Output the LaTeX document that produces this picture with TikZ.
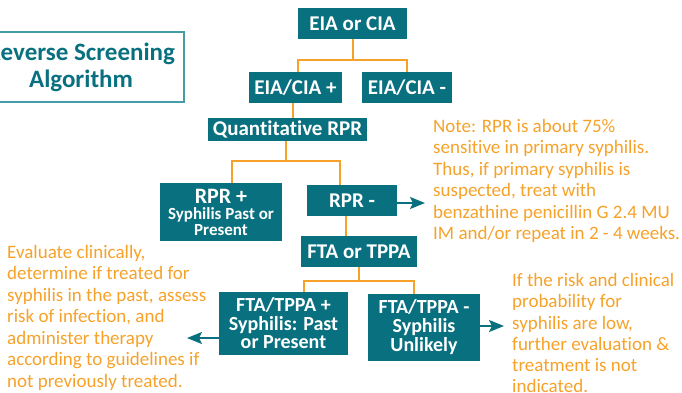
\documentclass[tikz,border=0pt]{standalone}
\usepackage{fontspec}
\setmainfont[Ligatures=NoCommon]{Carlito}
\usetikzlibrary{arrows.meta}
\definecolor{teal1}{RGB}{9,112,128}
\definecolor{orng}{RGB}{246,162,42}
\definecolor{tealb}{RGB}{70,156,166}
\begin{document}
\begin{tikzpicture}[x=1pt,y=-1pt,
  box/.style={fill=teal1,text=white,font=\bfseries\fontsize{21}{19}\selectfont,inner sep=0pt,align=center},
  link/.style={draw=orng,line width=2pt},
  arr/.style={draw=teal1,line width=2pt,-{Stealth[length=15pt,width=12pt,inset=3pt]}},
  note/.style={text=orng,font=\fontsize{19}{21.5}\selectfont,align=left,anchor=north west,inner sep=0pt}]
\useasboundingbox (0,0) rectangle (682,392);
\clip (0,0) rectangle (682,392);
% title
\node[draw=tealb,line width=2pt,text=teal1,font=\bfseries\fontsize{25}{27}\selectfont,
  minimum width=206pt,minimum height=70pt,inner sep=0pt,align=center] (t) at (81,67) {Reverse Screening\\Algorithm};
% boxes
\node[box,minimum width=109pt,minimum height=31pt] (e1) at (352.5,23.5) {EIA or CIA};
\node[box,minimum width=93pt,minimum height=31pt] (e2) at (295.5,87.5) {EIA/CIA +};
\node[box,minimum width=90pt,minimum height=31pt] (e3) at (407,87.5) {EIA/CIA -};
\node[box,minimum width=159pt,minimum height=23pt] (q) at (287.5,129.5) {Quantitative RPR};
\node[box,minimum width=122pt,minimum height=58pt,font=\bfseries\fontsize{17}{15.5}\selectfont] (rp) at (221,212) {{\fontsize{22}{20}\selectfont RPR +}\\[1pt]Syphilis Past or\\Present};
\node[box,minimum width=90pt,minimum height=31pt] (rm) at (352,200.5) {RPR -};
\node[box,minimum width=116pt,minimum height=31pt] (f) at (359,251.5) {FTA or TPPA};
\node[box,minimum width=129pt,minimum height=63pt,font=\bfseries\fontsize{20}{18.5}\selectfont] (fp) at (283.5,323.5) {FTA/TPPA +\\Syphilis: Past\\or Present};
\node[box,minimum width=112pt,minimum height=67pt,font=\bfseries\fontsize{20}{19}\selectfont] (fm) at (424,327.5) {FTA/TPPA -\\Syphilis\\Unlikely};
% orange connectors
\coordinate (j1) at (352.5,60);
\draw[link] (e1.south) -- (j1);
\draw[link] ([xshift=2.5pt]e2.north) |- (j1) -| (e3.north);
\draw[link] ([xshift=-2.5pt]e2.south) -- ([xshift=-2.5pt]e2.south |- q.north);
\coordinate (j2) at (286,161);
\draw[link] ([xshift=-1.5pt]q.south) -- (j2);
\draw[link] ([xshift=11pt]rp.north) |- (j2) -| ([xshift=-12pt]rm.north);
\draw[link] ([xshift=-6pt]rm.south) -- ([xshift=-6pt]rm.south |- f.north);
\coordinate (j3) at (359,281);
\draw[link] (f.south) -- (j3);
\draw[link] ([xshift=20.5pt]fp.north) |- (j3) -| ([xshift=-10pt]fm.north);
% notes
\node[note] (n1) at (433,119) {Note: RPR is about 75\%\\sensitive in primary syphilis.\\Thus, if primary syphilis is\\suspected, treat with\\benzathine penicillin G 2.4 MU\\IM and/or repeat in 2 - 4 weeks.};
\node[note] (n2) at (7,245) {Evaluate clinically,\\determine if treated for\\syphilis in the past, assess\\risk of infection, and\\administer therapy\\according to guidelines if\\not previously treated.};
\node[note,font=\fontsize{19}{21.3}\selectfont] (n3) at (512,273) {If the risk and clinical\\probability for\\syphilis are low,\\further evaluation \&\\treatment is not\\indicated.};
% arrows
\coordinate (a1) at (425,203);
\coordinate (a2) at (187,338);
\coordinate (a3) at (504,326);
\draw[arr] (rm.east |- a1) -- (a1);
\draw[arr] (fp.west |- a2) -- (a2);
\draw[arr] (fm.east |- a3) -- (a3);
\end{tikzpicture}
\end{document}
